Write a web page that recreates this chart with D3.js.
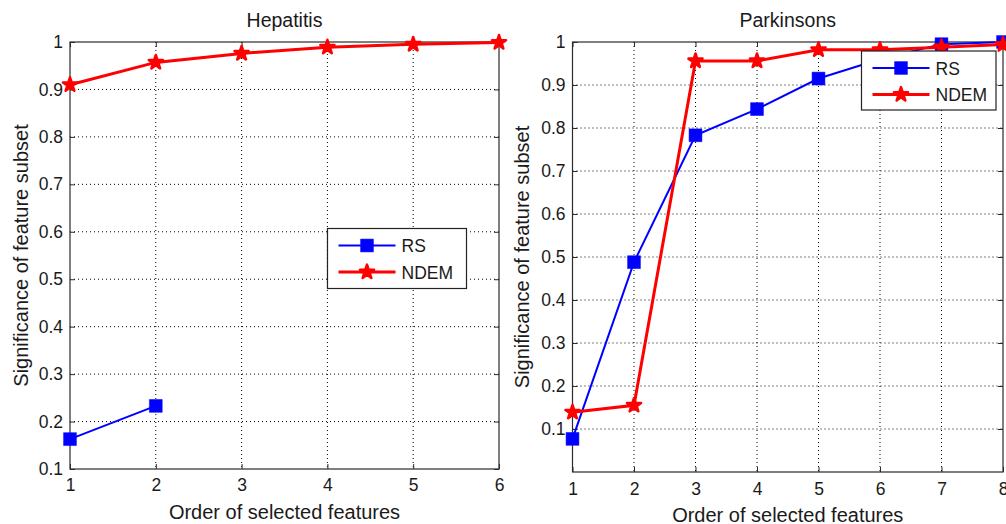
<!DOCTYPE html>
<meta charset="utf-8">
<style>
body { margin: 0; background: #fff; }
text { font-family: "Liberation Sans", Arial, sans-serif; fill: #1a1a1a; }
.grid line { stroke: #000; stroke-dasharray: 1,3; stroke-width: 1; }
.frame { fill: none; stroke: #2b2b2b; stroke-width: 1.2; }
.legend rect { fill: #fff; stroke: #222; stroke-width: 1.2; }
</style>
<svg width="1006" height="524"></svg>
<script src="https://d3js.org/d3.v7.min.js"></script>
<script>

// Hepatitis
var hepX = [1, 2, 3, 4, 5, 6];
var hepRS = [0.163, 0.233];
var hepNDEM = [0.910, 0.957, 0.976, 0.989, 0.995, 0.999];
var hepYTicks = [0.1, 0.2, 0.3, 0.4, 0.5, 0.6, 0.7, 0.8, 0.9, 1];

// Parkinsons
var parX = [1, 2, 3, 4, 5, 6, 7, 8];
var parRS = [0.077, 0.488, 0.783, 0.844, 0.915, 0.960, 0.995, 1.0];
var parNDEM = [0.139, 0.155, 0.956, 0.956, 0.982, 0.982, 0.988, 0.994];
var parYTicks = [0.1, 0.2, 0.3, 0.4, 0.5, 0.6, 0.7, 0.8, 0.9, 1];

var seriesNames = ["RS", "NDEM"];
var seriesColors = ["#0000ff", "#ff0000"];

var svg = d3.select("svg");

var squareSym = d3.symbol(d3.symbolSquare, 165)(),
    starSym = d3.symbol(d3.symbolStar, 62)();

function marker(sel, k) {
  sel.attr("d", k === 0 ? squareSym : starSym)
    .attr("fill", seriesColors[k])
    .attr("stroke", seriesColors[k])
    .attr("stroke-width", k === 0 ? 0.5 : 2.5)
    .attr("stroke-linejoin", "round");
}

function drawPanel(p) {
  var x = d3.scaleLinear().domain(p.xDomain).range([p.left, p.right]),
      y = d3.scaleLinear().domain(p.yDomain).range([p.bottom, p.top]);

  var g = svg.append("g");

  // dotted grid
  var grid = g.append("g").attr("class", "grid");
  grid.selectAll(".gx")
    .data(p.xs.slice(1, -1))
    .enter().append("line")
      .attr("x1", function(d) { return x(d); })
      .attr("x2", function(d) { return x(d); })
      .attr("y1", p.top).attr("y2", p.bottom);
  grid.selectAll(".gy")
    .data(p.yTicks.filter(function(d) { return d < p.yDomain[1] && d > p.yDomain[0]; }))
    .enter().append("line")
      .attr("y1", function(d) { return y(d); })
      .attr("y2", function(d) { return y(d); })
      .attr("x1", p.left).attr("x2", p.right);

  // axes with inward ticks (MATLAB style, box on)
  var fmt = function(d) { return d === 1 ? "1" : d3.format(".1f")(d); };
  var xb = g.append("g").attr("transform", "translate(0," + p.bottom + ")")
    .call(d3.axisBottom(x).tickValues(p.xs).tickSizeInner(-5).tickSizeOuter(0).tickPadding(p.xTickPad).tickFormat(d3.format("d")));
  var yl = g.append("g").attr("transform", "translate(" + p.left + ",0)")
    .call(d3.axisLeft(y).tickValues(p.yTicks).tickSizeInner(-5).tickSizeOuter(0).tickPadding(7).tickFormat(fmt));
  var xt = g.append("g").attr("transform", "translate(0," + p.top + ")")
    .call(d3.axisTop(x).tickValues(p.xs).tickSizeInner(-5).tickSizeOuter(0).tickFormat(""));
  var yr = g.append("g").attr("transform", "translate(" + p.right + ",0)")
    .call(d3.axisRight(y).tickValues(p.yTicks).tickSizeInner(-5).tickSizeOuter(0).tickFormat(""));
  [xb, yl, xt, yr].forEach(function(a) {
    a.select(".domain").remove();
    a.selectAll(".tick line").attr("stroke", "#2b2b2b");
    a.selectAll(".tick text").attr("fill", "#1a1a1a")
      .style("font-size", "17.5px")
      .style("font-family", "'Liberation Sans', Arial, sans-serif");
  });

  g.append("rect").attr("class", "frame")
    .attr("x", p.left).attr("y", p.top)
    .attr("width", p.right - p.left).attr("height", p.bottom - p.top);

  // series
  var lists = [p.rs, p.ndem];
  var line = d3.line()
    .x(function(d, i) { return x(p.xs[i]); })
    .y(function(d) { return y(d); });

  lists.forEach(function(vals, k) {
    g.append("path")
      .attr("d", line(vals))
      .attr("fill", "none")
      .attr("stroke", seriesColors[k])
      .attr("stroke-width", k === 0 ? 2 : 3);
    g.selectAll(".m" + k)
      .data(vals)
      .enter().append("path")
        .attr("transform", function(d, i) { return "translate(" + x(p.xs[i]) + "," + y(d) + ")"; })
        .call(marker, k);
  });

  // titles and labels
  svg.append("text")
    .attr("x", (p.left + p.right) / 2).attr("y", 26.5)
    .attr("text-anchor", "middle").style("font-size", "19.5px")
    .text(p.title);
  svg.append("text")
    .attr("x", (p.left + p.right) / 2).attr("y", p.xLabelY)
    .attr("text-anchor", "middle").style("font-size", "20px")
    .text("Order of selected features");
  svg.append("text")
    .attr("transform", "translate(" + p.yLabelX + "," + ((p.top + p.bottom) / 2) + ") rotate(-90)")
    .attr("text-anchor", "middle").style("font-size", "20px")
    .text("Significance of feature subset");

  // legend
  var lg = svg.append("g").attr("class", "legend")
    .attr("transform", "translate(" + p.legend[0] + "," + p.legend[1] + ")");
  lg.append("rect").attr("width", p.legend[2]).attr("height", p.legend[3]);
  seriesNames.forEach(function(name, k) {
    var ly = 17 + k * 26.5;
    lg.append("line")
      .attr("x1", 11).attr("x2", 68).attr("y1", ly).attr("y2", ly)
      .attr("stroke", seriesColors[k]).attr("stroke-width", k === 0 ? 2 : 3);
    lg.append("path")
      .attr("transform", "translate(39.5," + ly + ")")
      .call(marker, k);
    lg.append("text")
      .attr("x", 74).attr("y", ly + 6.5)
      .style("font-size", "17.5px")
      .text(name);
  });
}

drawPanel({
  title: "Hepatitis", xs: hepX, rs: hepRS, ndem: hepNDEM, yTicks: hepYTicks,
  xDomain: [1, 6], yDomain: [0.1, 1],
  left: 70, right: 499, top: 42, bottom: 469,
  xTickPad: 10, xLabelY: 519, yLabelX: 28,
  legend: [327.5, 228.5, 139, 60]
});

drawPanel({
  title: "Parkinsons", xs: parX, rs: parRS, ndem: parNDEM, yTicks: parYTicks,
  xDomain: [1, 8], yDomain: [0, 1],
  left: 572.5, right: 1003, top: 42, bottom: 472,
  xTickPad: 11, xLabelY: 522, yLabelX: 529,
  legend: [861.5, 51, 134.5, 59]
});

</script>
